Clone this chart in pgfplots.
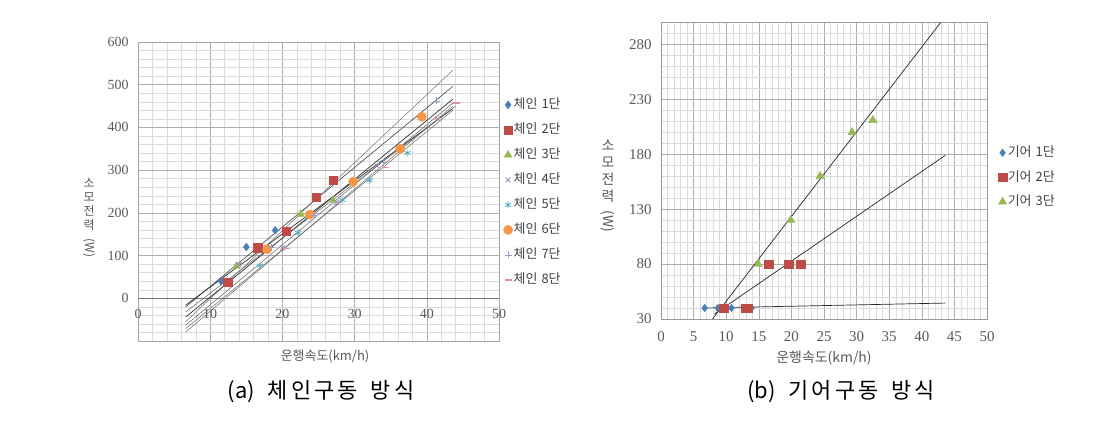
\documentclass[border=0pt]{standalone}
\usepackage{fontspec}
\setmainfont{Liberation Serif}
\newfontfamily\kr{Noto Sans CJK KR}
\newfontfamily\krcap[LetterSpace=14]{Noto Sans CJK KR}
\usepackage{pgfplots}
\pgfplotsset{compat=1.18}
\definecolor{cblue}{HTML}{4A7EBB}
\definecolor{cred}{HTML}{BE4B48}
\definecolor{cgreen}{HTML}{98B954}
\definecolor{cpurp}{HTML}{9B8FB8}
\definecolor{caqua}{HTML}{4BACC6}
\definecolor{corange}{HTML}{F79646}
\definecolor{cplus}{HTML}{8FA2D4}
\definecolor{cpink}{HTML}{E6909F}
\definecolor{tlabel}{HTML}{595959}
\begin{document}
\begin{tikzpicture}
\path[use as bounding box] (0bp,0bp) rectangle (1116bp,441bp);
% ---------------- left chart ----------------
\begin{axis}[
  at={(138bp,100bp)}, anchor=south west, scale only axis,
  width=361bp, height=299bp,
  xmin=0, xmax=50, ymin=-100, ymax=600,
  xtick={0,10,...,50}, xticklabels={0,10,20,30,40,50},
  ytick={-100,0,...,600}, yticklabels={,0,100,200,300,400,500,600},
  minor x tick num=4, minor y tick num=4,
  grid=both,
  major grid style={draw=gray!65, line width=0.5bp},
  minor grid style={draw=gray!28, line width=0.45bp},
  axis line style={draw=gray!70},
  major tick length=0pt, minor tick length=0pt,
  tick label style={font=\fontsize{14}{14}\selectfont, text=tlabel},
  xticklabel style={yshift=35bp},
  yticklabel style={xshift=-6bp},
  extra y ticks={0}, extra y tick labels={},
  extra y tick style={grid=major, major grid style={draw=black!55, line width=0.8bp}},
  legend style={at={(1.0125,0.813)}, anchor=north west, draw=none, fill=none,
    inner sep=0pt, outer sep=0pt, font=\kr\fontsize{13}{13}\selectfont, text=black!75,
    nodes={inner sep=1bp, text height=10bp, text depth=2bp}, row sep=11bp},
  legend cell align=left,
]
\addplot[only marks, mark=diamond*, mark size=4bp, color=cblue] coordinates {(11.5,40)(15.0,120)(19.0,159)};
\addlegendentry{체인\hspace{4bp}1단}
\addplot[only marks, mark=square*, mark size=4.2bp, color=cred] coordinates {(12.4,38)(16.6,118)(20.5,157)(24.7,237)(27.0,276)};
\addlegendentry{체인\hspace{4bp}2단}
\addplot[only marks, mark=triangle*, mark size=4.5bp, color=cgreen] coordinates {(13.6,75)(22.5,197)(27.0,229)};
\addlegendentry{체인\hspace{4bp}3단}
\addplot[only marks, mark=x, mark size=3.5bp, color=cpurp, mark options={line width=0.8bp}] coordinates {(14.0,78)(20.0,118)(27.5,225)(33.0,311)(41.5,420)};
\addlegendentry{체인\hspace{4bp}4단}
\addplot[only marks, mark=asterisk, mark size=3.5bp, color=caqua, mark options={line width=0.8bp}] coordinates {(16.9,77)(22.2,153)(28.3,230)(32.1,276)(37.3,340)};
\addlegendentry{체인\hspace{4bp}5단}
\addplot[only marks, mark=*, mark size=4.6bp, color=corange] coordinates {(17.9,115)(23.8,196)(29.8,273)(36.3,350)(39.3,425)};
\addlegendentry{체인\hspace{4bp}6단}
\addplot[only marks, mark=+, mark size=3.5bp, color=cplus, mark options={line width=0.8bp}] coordinates {(18.5,118)(24.5,195)(34.0,318)(41.3,462)};
\addlegendentry{체인\hspace{4bp}7단}
\addplot[only marks, mark=-, mark size=3.5bp, color=cpink, mark options={line width=1.2bp}] coordinates {(20.5,116)(34.3,306)(41.3,421)(44.1,457)};
\addlegendentry{체인\hspace{4bp}8단}
% trend lines
\addplot[forget plot, no marks, draw=black!75, line width=0.6bp] coordinates {(6.6,-20)(43.6,496)};
\addplot[forget plot, no marks, draw=black!55, line width=0.5bp] coordinates {(6.6,-55)(43.6,534)};
\addplot[forget plot, no marks, draw=black!80, line width=0.7bp] coordinates {(6.6,-16)(43.6,444)};
\addplot[forget plot, no marks, draw=black!60, line width=0.5bp] coordinates {(6.6,-63)(43.6,457)};
\addplot[forget plot, no marks, draw=black!60, line width=0.5bp] coordinates {(6.6,-71)(43.6,440)};
\addplot[forget plot, no marks, draw=black!80, line width=0.7bp] coordinates {(6.6,-44)(43.6,466)};
\addplot[forget plot, no marks, draw=black!60, line width=0.5bp] coordinates {(6.6,-79)(43.6,450)};
\addplot[forget plot, no marks, draw=black!60, line width=0.5bp] coordinates {(6.6,-32)(44.0,450)};
\end{axis}
% ---------------- right chart ----------------
\begin{axis}[
  at={(661bp,122bp)}, anchor=south west, scale only axis,
  width=326bp, height=296.6bp,
  xmin=0, xmax=50, ymin=30, ymax=300,
  xtick={0,5,...,50}, xticklabels={0,5,10,15,20,25,30,35,40,45,50},
  ytick={30,80,...,280}, yticklabels={30,80,130,180,230,280},
  minor x tick num=4, minor y tick num=4,
  grid=both,
  major grid style={draw=gray!65, line width=0.5bp},
  minor grid style={draw=gray!28, line width=0.45bp},
  axis line style={draw=gray!80},
  major tick length=0pt, minor tick length=0pt,
  tick label style={font=\fontsize{15}{15}\selectfont, text=tlabel},
  xticklabel style={yshift=-9bp},
  yticklabel style={xshift=-6bp},
  extra y ticks={290}, extra y tick labels={},
  extra y tick style={grid=major, major grid style={draw=gray!28, line width=0.45bp}},
  legend style={at={(1.035,0.584)}, anchor=north west, draw=none, fill=none,
    inner sep=0pt, outer sep=0pt, font=\kr\fontsize{13}{13}\selectfont, text=black!75,
    nodes={inner sep=1bp, text height=10bp, text depth=2bp}, row sep=10.5bp},
  legend cell align=left,
]
\addplot[only marks, mark=diamond*, mark size=3.8bp, color=cblue] coordinates {(6.7,40)(8.7,40)(10.8,40)(13.9,40)};
\addlegendentry{기어\hspace{4bp}1단}
\addplot[only marks, mark=square*, mark size=4.2bp, color=cred] coordinates {(9.6,40)(12.9,40)(13.4,40)(16.5,80)(19.6,80)(21.4,80)};
\addlegendentry{기어\hspace{4bp}2단}
\addplot[only marks, mark=triangle*, mark size=4.8bp, color=cgreen] coordinates {(14.9,80)(19.9,120)(24.4,160)(29.3,200)(32.5,211)};
\addlegendentry{기어\hspace{4bp}3단}
\addplot[forget plot, no marks, draw=black!85, line width=0.7bp] coordinates {(6.7,40)(43.6,44.5)};
\addplot[forget plot, no marks, draw=black!85, line width=0.7bp] coordinates {(8.2,34.5)(43.6,179)};
\addplot[forget plot, no marks, draw=black!85, line width=0.7bp] coordinates {(7.9,30)(42.9,300)};
\end{axis}
% ---------------- labels ----------------
\node[font=\kr\fontsize{13}{13}\selectfont, text=tlabel] at (325bp,85bp) {운행속도(km/h)};
\node[font=\kr\fontsize{14}{14}\selectfont, text=tlabel] at (824bp,83bp) {운행속도(km/h)};
\node[font=\kr\fontsize{12}{14}\selectfont, text=tlabel, align=center, inner sep=0pt] at (89bp,223bp) {소\\모\\전\\력\\[7bp]\rotatebox[origin=c]{-90}{(W)}};
\node[font=\kr\fontsize{14}{17}\selectfont, text=tlabel, align=center, inner sep=0pt] at (608bp,255bp) {소\\모\\전\\력\\[8bp]\rotatebox[origin=c]{-90}{(W)}};
\node[font=\fontsize{22}{22}\selectfont] at (321bp,49bp) {\kr(a)\hspace{13bp}\krcap 체인구동\hspace{13bp}방식};
\node[font=\fontsize{22}{22}\selectfont] at (841bp,49bp) {\kr(b)\hspace{13bp}\krcap 기어구동\hspace{13bp}방식};
\end{tikzpicture}
\end{document}
